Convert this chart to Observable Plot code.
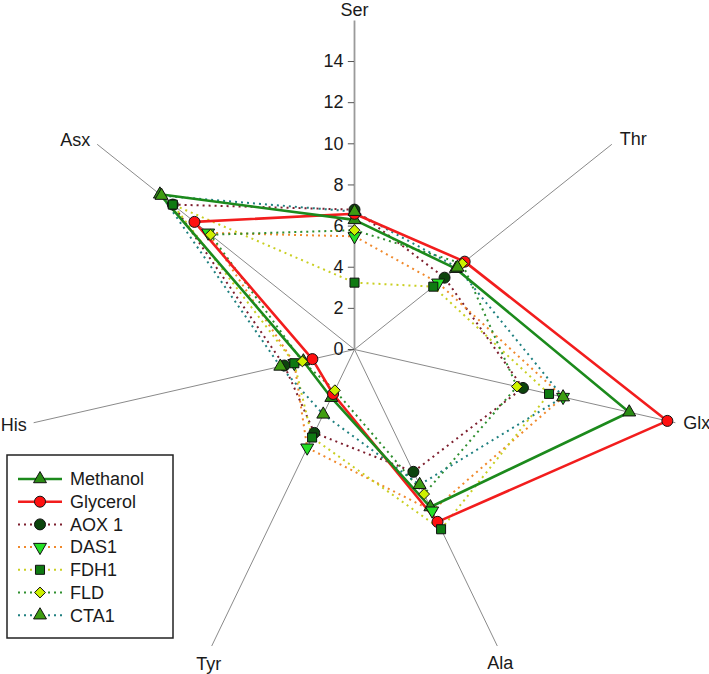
<!DOCTYPE html>
<html>
<head>
<meta charset="utf-8">
<script src="https://cdn.jsdelivr.net/npm/d3@7"></script>
<script src="https://cdn.jsdelivr.net/npm/@observablehq/plot@0.6"></script>
<style>
  body { margin: 0; background: #fff; }
  #wrap { position: relative; width: 709px; height: 674px; font-family: Arial, "Liberation Sans", sans-serif; }
  #legend { position: absolute; left: 6px; top: 454px; }
</style>
</head>
<body>
<div id="wrap"><div id="chart"></div><svg id="legend" width="169" height="186"></svg></div>
<script>
// ---- data ----
const axes = ["Ser", "Thr", "Glx", "Ala", "Tyr", "His", "Asx"];
const seriesNames = ["Methanol", "Glycerol", "AOX 1", "DAS1", "FDH1", "FLD", "CTA1"];
const methanol = [6.3, 6.3, 13.7, 8.5, 2.6, 2.55, 12.1];
const glycerol = [6.6, 6.85, 15.6, 9.3, 2.4, 2.1, 9.95];
const aox1     = [6.8, 5.6, 8.4, 6.6, 4.5, 3.5, 11.3];
const das1     = [5.5, 5.2, 10.4, 8.7, 5.3, 3.0, 9.1];
const fdh1     = [3.25, 4.9, 9.7, 9.7, 4.75, 3.0, 11.3];
const fld      = [5.8, 6.7, 8.1, 7.8, 2.2, 2.6, 8.95];
const cta1     = [6.7, 6.4, 10.4, 7.3, 3.5, 3.7, 12.0];
const tickValues = [0, 2, 4, 6, 8, 10, 12, 14];
const axisMax = 16;

// ---- styles / layout ----
const seriesValues = [methanol, glycerol, aox1, das1, fdh1, fld, cta1];
const styles = [
  {stroke: "#1c8a1c", dash: null, width: 2.6, symbol: "triangle", rotate: 0, fill: "#2a8c14", r: 4.8},
  {stroke: "#f21d1d", dash: null, width: 2.6, symbol: "circle", rotate: 0, fill: "#ff1010", r: 5.5},
  {stroke: "#7d1f2e", dash: "2,4", width: 2, symbol: "circle", rotate: 0, fill: "#0d450d", r: 5.5},
  {stroke: "#f0892c", dash: "2,4", width: 2, symbol: "triangle", rotate: 180, fill: "#26e026", r: 4.8},
  {stroke: "#c9cf22", dash: "2,4", width: 2, symbol: "square", rotate: 0, fill: "#0f7a12", r: 5.1},
  {stroke: "#2f8f2f", dash: "2,4", width: 2, symbol: "diamond2", rotate: 0, fill: "#cdf000", r: 4.9},
  {stroke: "#1f8080", dash: "2,4", width: 2, symbol: "triangle", rotate: 0, fill: "#3f9d12", r: 4.8}
];
// label offsets from the spoke end, in pixels [dx, dy]
const labelOffsetPx = [[0, -10], [8, -5], [8, 0], [3, 17], [-3, 18], [-7, 2], [-7, -4]];

const n = axes.length;
const ang = i => i * 2 * Math.PI / n;
const rows = [];
seriesValues.forEach((vals, s) => vals.forEach((v, j) => rows.push({s, axis: axes[j], v, x: v * Math.sin(ang(j)), y: v * Math.cos(ang(j))})));

function anchor(i) {
  const s = Math.sin(ang(i));
  if (Math.abs(s) < 0.5) return "middle";
  return s > 0 ? "start" : "end";
}
const pxPerUnit = 20.57, cx = 354, cy = 349, W = 709, H = 674;
const axisLabels = axes.map((name, i) => ({
  name, anchor: anchor(i),
  x: axisMax * Math.sin(ang(i)) + labelOffsetPx[i][0] / pxPerUnit,
  y: axisMax * Math.cos(ang(i)) - labelOffsetPx[i][1] / pxPerUnit
}));

const marks = [];
marks.push(Plot.link(axes, {x1: 0, y1: 0, x2: (d, i) => axisMax * Math.sin(ang(i)), y2: (d, i) => axisMax * Math.cos(ang(i)),
  stroke: (d, i) => i === 0 ? "#9a9a9a" : "#8a8a8a", strokeWidth: (d, i) => i === 0 ? 1.8 : 1}));
marks.push(Plot.ruleY(tickValues, {y: d => d, x1: -0.3, x2: 0, stroke: "#555", strokeWidth: 1}));
marks.push(Plot.text(tickValues, {x: 0, y: d => d, text: d => String(d), dx: -11, textAnchor: "end", fontSize: 18, fill: "#1a1a1a"}));
for (const a of ["start", "middle", "end"]) {
  marks.push(Plot.text(axisLabels.filter(d => d.anchor === a), {x: "x", y: "y", text: "name", textAnchor: a, fontSize: 18, fill: "#1a1a1a"}));
}
// dotted lines first, then solid lines
const lineOrder = [2, 3, 4, 5, 6, 1, 0];
for (const s of lineOrder) {
  const st = styles[s];
  marks.push(Plot.line(rows.filter(d => d.s === s), {x: "x", y: "y", curve: "linear-closed", stroke: st.stroke, strokeWidth: st.width,
    strokeDasharray: st.dash, strokeLinecap: st.dash ? "butt" : "round", strokeLinejoin: "miter"}));
}
for (let s = 0; s < seriesNames.length; s++) {
  const st = styles[s];
  marks.push(Plot.dot(rows.filter(d => d.s === s), {x: "x", y: "y", symbol: st.symbol, r: st.r, rotate: st.rotate,
    fill: st.fill, stroke: "#111", strokeWidth: 1}));
}

const plot = Plot.plot({
  width: W, height: H, margin: 0,
  style: {fontFamily: "Arial, 'Liberation Sans', sans-serif", background: "white"},
  x: {domain: [-cx / pxPerUnit, (W - cx) / pxPerUnit], axis: null},
  y: {domain: [-(H - cy) / pxPerUnit, cy / pxPerUnit], axis: null},
  marks
});
document.getElementById("chart").appendChild(plot);

// ---- legend ----
const lg = d3.select("#legend");
lg.append("rect").attr("x", 1).attr("y", 1).attr("width", 166).attr("height", 183)
  .attr("fill", "white").attr("stroke", "#222").attr("stroke-width", 1.5);
const symMap = {triangle: d3.symbolTriangle, circle: d3.symbolCircle, square: d3.symbolSquare, diamond2: d3.symbolDiamond2};
seriesNames.forEach((name, s) => {
  const st = styles[s];
  const y = 25 + s * 22.7;
  const g = lg.append("g").attr("transform", `translate(0,${y})`);
  g.append("line").attr("x1", 12).attr("x2", 56).attr("y1", 0).attr("y2", 0)
    .attr("stroke", st.stroke).attr("stroke-width", st.width).attr("stroke-dasharray", st.dash);
  g.append("path").attr("d", d3.symbol(symMap[st.symbol], Math.PI * st.r * st.r)())
    .attr("transform", `translate(34,0) rotate(${st.rotate})`)
    .attr("fill", st.fill).attr("stroke", "#111").attr("stroke-width", 1);
  g.append("text").attr("x", 64).attr("y", 0).attr("dy", "0.35em").attr("font-size", 18)
    .attr("font-family", "Arial, 'Liberation Sans', sans-serif").attr("fill", "#1a1a1a").text(name);
});
</script>
</body>
</html>
